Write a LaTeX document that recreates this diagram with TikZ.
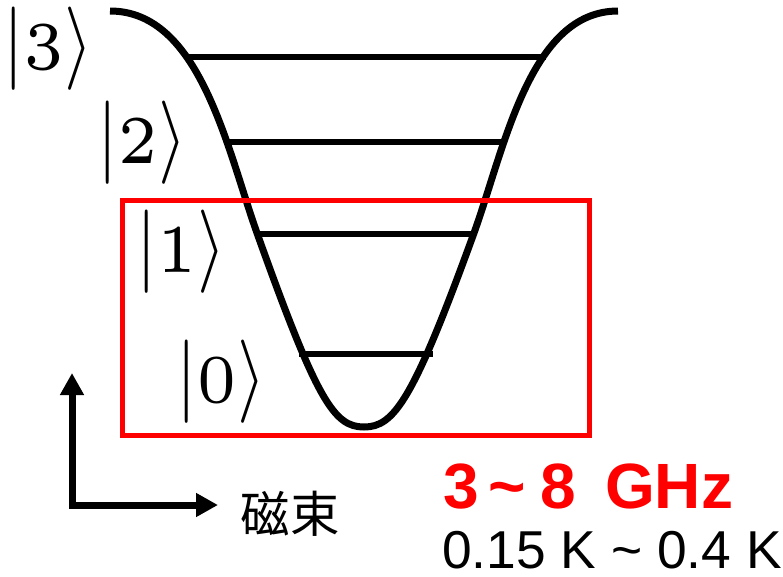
\documentclass[tikz,border=0pt]{standalone}
\usepackage{fontspec}
\newfontfamily\arialf{Liberation Sans}
\newfontfamily\cjk{Noto Sans CJK JP}
\usetikzlibrary{arrows.meta}
\definecolor{boxred}{RGB}{255,0,0}
\newcommand{\ketlab}[1]{\scalebox{5.5}[6.25]{$|\mbox{\scalebox{1.64}{\fontsize{5}{6}\selectfont #1}}\rangle$}}
\begin{document}
\begin{tikzpicture}[x=0.75pt,y=-0.75pt,
  well/.style={line width=5.25pt,line join=round},
  lvl/.style={line width=4pt},
  ketnode/.style={inner sep=0pt,outer sep=0pt},
  frame/.style={draw=boxred,line width=3.75pt},
  axis/.style={line width=5.25pt,{Triangle[length=16.5pt,width=17pt]}-{Triangle[length=16.5pt,width=17pt]}},
  ghz/.style={inner sep=0pt,anchor=base west,text=boxred,font=\arialf\bfseries\fontsize{48}{52}\selectfont},
  temp/.style={inner sep=0pt,anchor=base west,font=\arialf\fontsize{40}{44}\selectfont},
  flux/.style={inner sep=0pt,font=\cjk\fontsize{37}{40}\selectfont}]
\useasboundingbox (0,0) rectangle (783,576);
% potential well
\draw[well] (110,11) .. controls (200,11) and (227,149) .. (257,233)
  .. controls (317,401) and (334,427) .. (364,427)
  .. controls (394,427) and (413,401) .. (474,233)
  .. controls (505,147) and (530,11) .. (618,11);
% energy levels
\coordinate (l3a) at (187,57); \coordinate (l3b) at (546,57);
\coordinate (l2a) at (226,142); \coordinate (l2b) at (504,142);
\coordinate (l1a) at (258,234); \coordinate (l1b) at (474,234);
\coordinate (l0a) at (299,354); \coordinate (l0b) at (433,354);
\draw[lvl] (l3a) -- (l3b);
\draw[lvl] (l2a) -- (l2b);
\draw[lvl] (l1a) -- (l1b);
\draw[lvl] (l0a) -- (l0b);
% kets
\node[ketnode] (k3) at (48,48.3) {\ketlab{3}};
\node[ketnode] (k2) at (142,142.5) {\ketlab{2}};
\node[ketnode] (k1) at (181,251.5) {\ketlab{1}};
\node[ketnode] (k0) at (221,381.5) {\ketlab{0}};
% red frame
\node[frame,inner sep=0pt,minimum width=467*0.75pt,minimum height=235*0.75pt] (box) at (355.5,317.5) {};
% axes
\coordinate (ytip) at (72,373);
\coordinate (corner) at (72,505);
\coordinate (xtip) at (218,505);
\draw[axis] (ytip) -- (corner) -- (xtip);
\node[flux] (fluxlab) at (290,513.5) {磁束};
% texts
\node[ghz] (freq) at (443,508) {3\kern7.5pt\textasciitilde\kern11pt 8\kern21.5pt GHz};
\node[temp] (tmp) at (442,568) {0.15 K \textasciitilde{} 0.4 K};
\end{tikzpicture}
\end{document}
